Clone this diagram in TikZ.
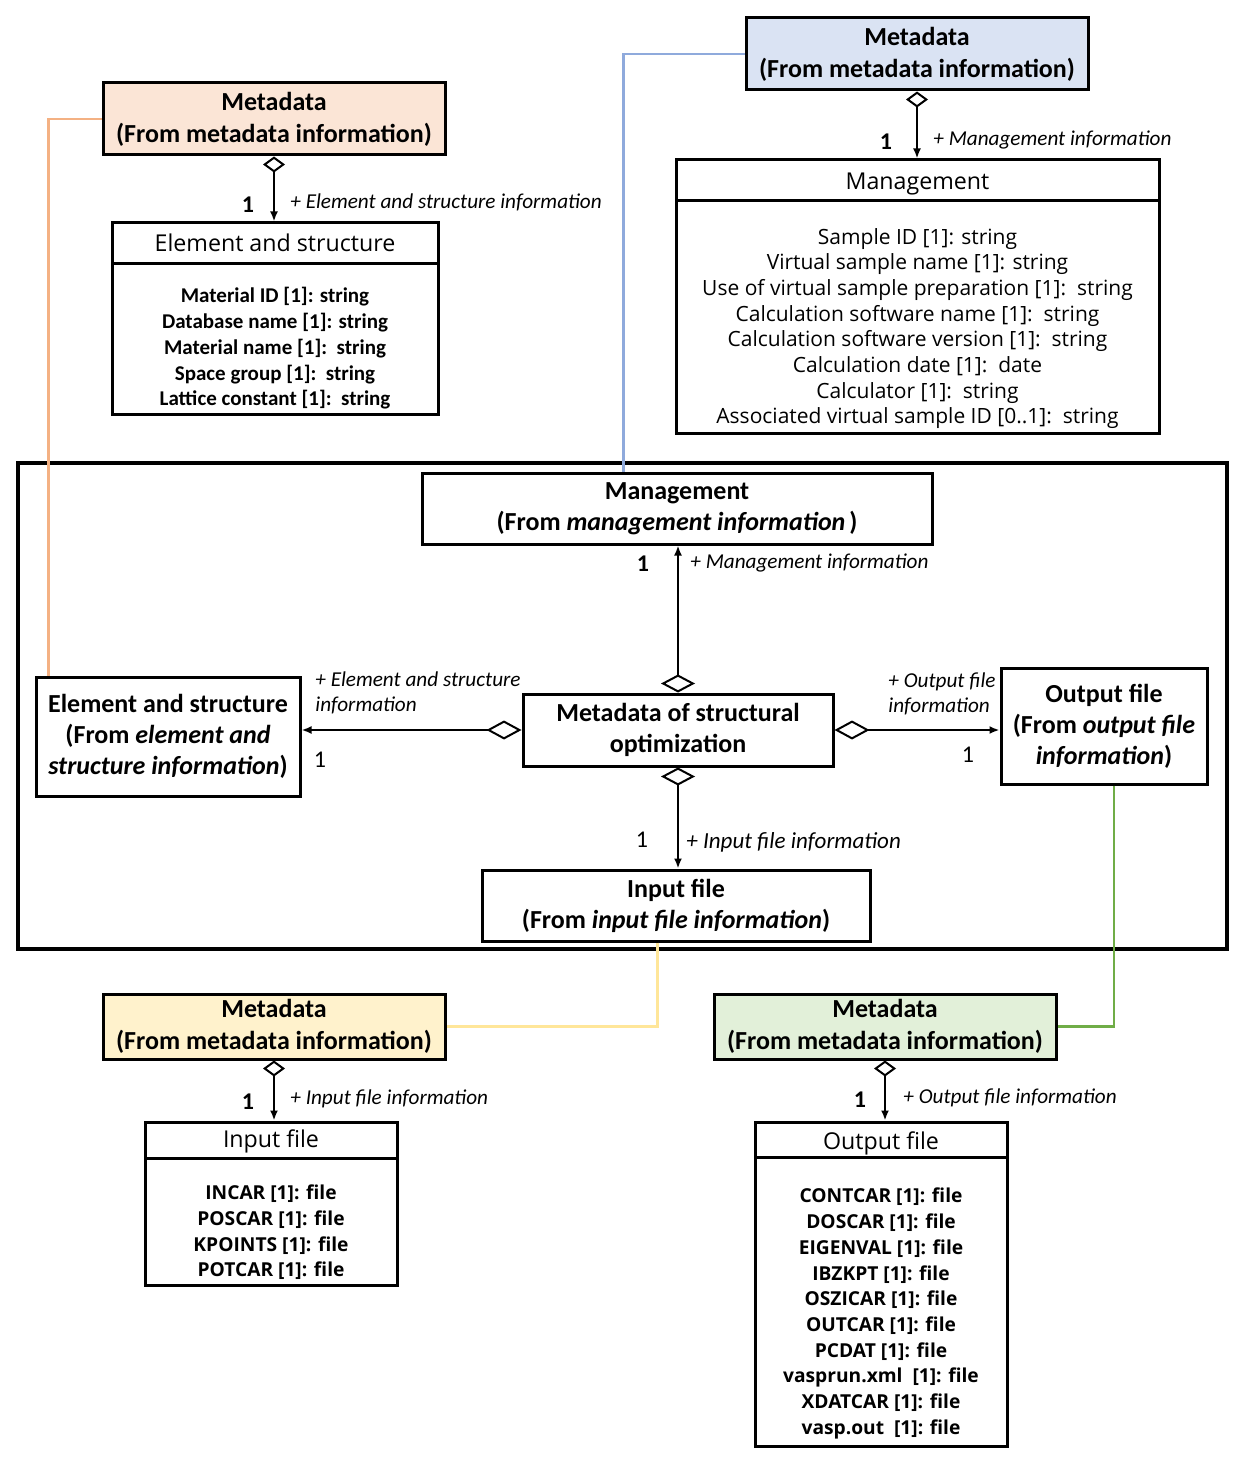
\documentclass[tikz,border=0pt]{standalone}
\usepackage{fontspec}
\setmainfont{Carlito}
\newfontfamily\osans{Open Sans}
\usetikzlibrary{arrows.meta,calc}
\definecolor{orfill}{HTML}{FBE5D6}
\definecolor{orline}{HTML}{F4B183}
\definecolor{blfill}{HTML}{DAE3F3}
\definecolor{blline}{HTML}{8FAADC}
\definecolor{yefill}{HTML}{FFF2CC}
\definecolor{yeline}{HTML}{FFE699}
\definecolor{grfill}{HTML}{E2F0D9}
\definecolor{grline}{HTML}{70AD47}
\tikzset{
  meta/.style={draw, line width=1.5pt, minimum width=171pt, minimum height=36pt, inner sep=0pt, align=center, font=\fontsize{13}{16}\selectfont\bfseries},
  cls/.style={draw, line width=1.5pt, inner sep=0pt, align=center, font=\fontsize{13}{15.5}\selectfont\bfseries},
  umlbox/.style={draw, line width=1.5pt, inner sep=0pt},
  headtext/.style={inner sep=0pt, font=\osans\fontsize{11.6}{14}\selectfont},
  itemsA/.style={align=center, inner sep=0pt, font=\fontsize{10.5}{12.9}\selectfont\bfseries},
  itemsB/.style={align=center, inner sep=0pt, font=\osans\fontsize{10.5}{12.85}\selectfont},
  itemsC/.style={align=center, inner sep=0pt, font=\osans\fontsize{9.6}{12.85}\selectfont\bfseries},
  lab/.style={inner sep=0pt, anchor=west, align=left, font=\itshape\fontsize{10.6}{12.5}\selectfont},
  one/.style={inner sep=0pt, font=\fontsize{12}{14}\selectfont},
  oneb/.style={inner sep=0pt, font=\fontsize{12}{14}\selectfont\bfseries},
  aggS/.style={line width=1pt, {Diamond[fill=white,length=8pt,width=11pt]}-{Latex[length=5pt,width=4pt]}},
  aggV/.style={line width=1pt, {Diamond[fill=white,length=9pt,width=17pt]}-{Latex[length=5pt,width=4pt]}},
  aggH/.style={line width=1pt, {Diamond[fill=white,length=17.5pt,width=9.5pt]}-{Latex[length=5pt,width=4pt]}},
  link/.style={line width=1.3pt}
}
\begin{document}
\begin{tikzpicture}[x=0.5pt,y=-0.5pt]
\useasboundingbox (0,0) rectangle (1242,1459);

% big frame
\node[draw, line width=1.8pt, minimum width=604.5pt, minimum height=243pt, inner sep=0pt] (frame) at (622.5,706) {};

% metadata boxes
\node[meta, fill=orfill] (orange) at (274,119) {Metadata\\(From metadata information)};
\node[meta, fill=blfill] (blue) at (917,54) {Metadata\\(From metadata information)};
\node[meta, fill=yefill, minimum height=32.5pt] (yellow) at (274,1026.5) {Metadata\\(From metadata information)};
\node[meta, fill=grfill, minimum height=32.5pt] (green) at (885,1026.5) {Metadata\\(From metadata information)};

% UML: element and structure
\node[umlbox, minimum width=163pt, minimum height=20.5pt] (esHead) at (275,243.5) {};
\node[headtext] (esTitle) at (275,243) {Element and structure};
\node[umlbox, minimum width=163pt, minimum height=75.5pt] (esBody) at (275,339.5) {};
\node[itemsA] (esItems) at ([yshift=-4.5pt]esBody.center) {Material\ ID [1]: string\\Database\ name [1]: string\\Material\ name [1]:\ \ string\\Space group [1]:\ \ string\\Lattice constant\ [1]:\ \ string};

% UML: management
\node[umlbox, minimum width=241.5pt, minimum height=20.5pt] (mgHead) at (917.5,180.5) {};
\node[headtext] (mgTitle) at (917.5,184) {Management};
\node[umlbox, minimum width=241.5pt, minimum height=116.5pt] (mgBody) at (917.5,317.5) {};
\node[itemsB] (mgItems) at ([yshift=-5.5pt]mgBody.center) {Sample ID [1]: string\\Virtual\ sample name [1]: string\\Use of virtual sample preparation [1]:\ \ string\\Calculation\ software name [1]:\ \ string\\Calculation\ software version [1]:\ \ string\\Calculation\ date [1]:\ \ date\\Calculator [1]:\ \ string\\Associated virtual sample ID [0..1]:\ \ string};

% UML: input file
\node[umlbox, minimum width=126pt, minimum height=18pt] (inHead) at (271,1140) {};
\node[headtext] (inTitle) at (271,1141) {Input file};
\node[umlbox, minimum width=126pt, minimum height=63.5pt] (inBody) at (271,1221.5) {};
\node[itemsC] (inItems) at ([yshift=-5.5pt]inBody.center) {INCAR [1]: file\\POSCAR [1]: file\\KPOINTS\ [1]: file\\POTCAR [1]: file};

% UML: output file
\node[umlbox, minimum width=126pt, minimum height=17.5pt] (outHead) at (881,1139.5) {};
\node[headtext] (outTitle) at (881,1143) {Output file};
\node[umlbox, minimum width=126pt, minimum height=144.5pt] (outBody) at (881,1301.5) {};
\node[itemsC] (outItems) at ([yshift=-6pt]outBody.center) {CONTCAR [1]: file\\DOSCAR [1]: file\\EIGENVAL [1]: file\\IBZKPT [1]: file\\OSZICAR [1]: file\\OUTCAR [1]: file\\PCDAT [1]: file\\vasprun.xml\ \ [1]: file\\XDATCAR [1]: file\\vasp.out\ \ [1]: file};

% inner classes
\node[cls, minimum width=255pt, minimum height=35pt] (mgmt) at (677,509) {Management\\\hspace*{0.4em}(From \textit{management information}\hspace{0.15em})\hspace*{0.4em}};
\node[cls, minimum width=155pt, minimum height=36pt] (central) at (678,730) {Metadata of structural\\optimization};
\node[cls, minimum width=132pt, minimum height=59.5pt] (element) at (168,736.5) {Element and structure\\(From \textit{element and}\\\textit{structure information})};
\node[cls, minimum width=103pt, minimum height=58pt] (output) at (1104,726) {Output file\\(From \textit{output file}\\\textit{information})};
\node[cls, minimum width=194pt, minimum height=35.5pt] (input) at (676,905.5) {Input file\\(From \textit{input file information})};

% aggregation connectors
\draw[aggS] (orange.south) -- (orange.south |- esHead.north);
\draw[aggS] (blue.south) -- (blue.south |- mgHead.north);
\draw[aggS] (yellow.south) -- (yellow.south |- inHead.north);
\draw[aggS] (green.south) -- (green.south |- outHead.north);
\draw[aggV] (central.north) -- (central.north |- mgmt.south);
\draw[aggV] (central.south) -- (central.south |- input.north);
\draw[aggH] (central.west) -- (central.west -| element.east);
\draw[aggH] (central.east) -- (central.east -| output.west);

% colored links
\draw[link, orline] (orange.west) -| ([xshift=7pt]element.north west);
\draw[link, blline] (blue.west) -| ([xshift=101.5pt]mgmt.north west);
\draw[link, yeline] ([xshift=88.5pt]input.south west) |- (yellow.east);
\draw[link, grline] ([xshift=5pt]output.south) |- (green.east);

% labels
\node[oneb] (n1) at (248,205) {1};
\node[lab] (l1) at (290,202) {+ Element and structure information};
\node[oneb] (n2) at (886,142) {1};
\node[lab] (l2) at (933,140) {+ Management information};
\node[oneb] (n3) at (643,564) {1};
\node[lab] (l3) at (690,563) {+ Management information};
\node[lab] (l4) at (315,692.5) {+ Element and structure\\information};
\node[one] (n4) at (320,760) {1};
\node[lab] (l5) at (888,693.5) {+ Output file\\information};
\node[one] (n5) at (968,755) {1};
\node[one] (n6) at (642,840) {1};
\node[lab, font=\itshape\fontsize{11.5}{13}\selectfont] (l6) at (686,842) {+ Input file information};
\node[oneb] (n7) at (248,1102) {1};
\node[lab] (l7) at (290,1099) {+ Input file information};
\node[oneb] (n8) at (860,1100) {1};
\node[lab] (l8) at (903,1098) {+ Output file information};
\end{tikzpicture}
\end{document}
